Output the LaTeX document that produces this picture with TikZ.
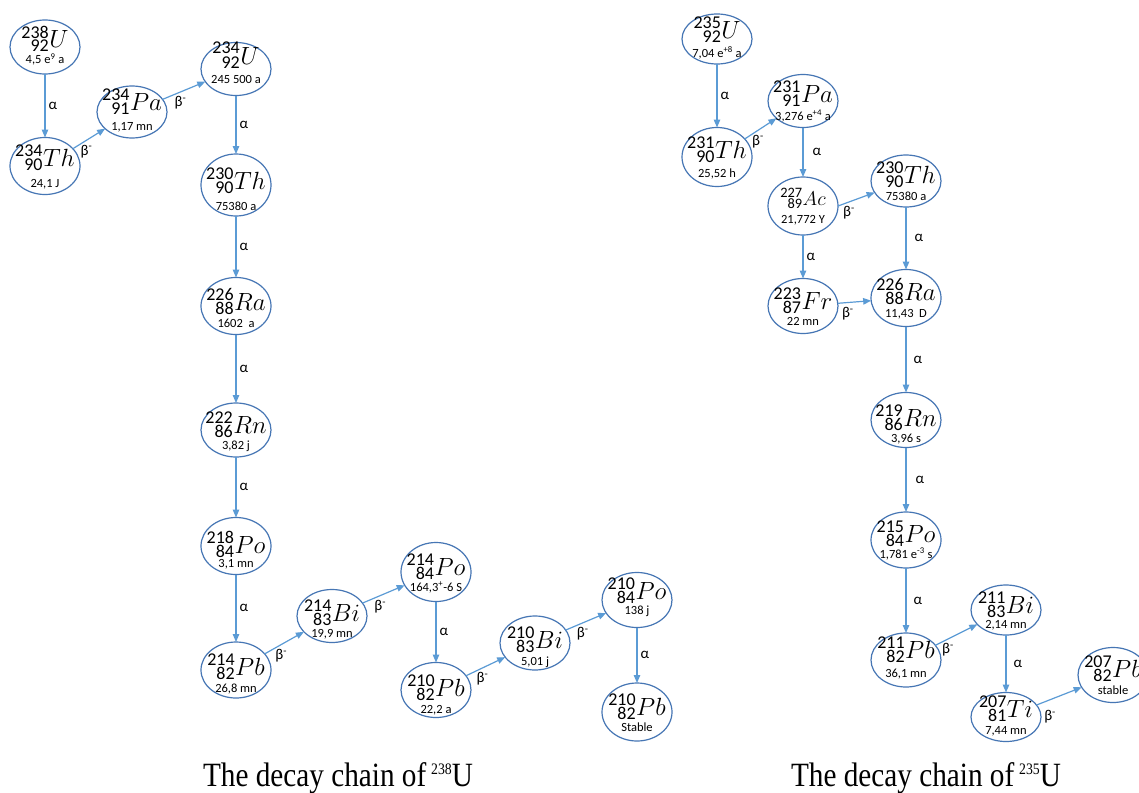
\documentclass[tikz,border=0pt]{standalone}
\usepackage{fontspec}
\usepackage{graphicx}
\usetikzlibrary{shapes.geometric,arrows.meta}
\newfontfamily\calib{Carlito}
\newfontfamily\capfont{Liberation Serif}
\definecolor{ellc}{RGB}{70,118,180}
\definecolor{arrc}{RGB}{91,155,213}

% nuclide symbol: mass number over charge number, right aligned, before the element
\newcommand\nucsym[3]{%
  \begingroup\calib\fontsize{18}{18}\selectfont
  \setbox0\hbox{#1}\setbox2\hbox{#2}%
  \dimen0=\ifdim\wd0>\wd2 \wd0\else\wd2\fi
  \hbox to \dimen0{\hfil\raise10pt\box0}\kern-\dimen0
  \hbox to \dimen0{\hfil\lower4pt\box2}%
  \endgroup
  \kern0.5pt{\fontsize{25}{25}\selectfont$#3$}}

% [scale]{mass}{charge}{symbol}{half-life}{symbol baseline shift}{half-life baseline shift}
\newcommand\isotope[7][1]{%
  \makebox[0pt]{\raisebox{#6pt}[0pt][0pt]{\scalebox{#1}{\nucsym{#2}{#3}{#4}}}}%
  \makebox[0pt]{\raisebox{#7pt}[0pt][0pt]{\calib\fontsize{12.5}{12.5}\selectfont #5}}}

\newcommand\chaincaption[1]{\scalebox{0.86}[1]{\fontsize{34}{34}\selectfont The decay chain of\,\raisebox{11.5pt}{\fontsize{16}{16}\selectfont #1}U}}

\tikzset{
  nuc/.style={ellipse, draw=ellc, line width=1.2pt, minimum width=70pt, inner sep=0pt, outer sep=0pt},
  arr/.style={draw=arrc, line width=1.2pt, -{Triangle[length=8pt,width=6.5pt]}},
  alab/.style={font=\calib\fontsize{15}{15}\selectfont, right, inner sep=3pt},
  blab/.style={font=\calib\fontsize{15}{15}\selectfont, below, pos=0.42, inner sep=4pt},
  caption/.style={font=\capfont, anchor=base, inner sep=0pt}
}

\begin{document}
\begin{tikzpicture}[x=1pt,y=-1pt]
\useasboundingbox (0,0) rectangle (1139,792);
\fill[white] (0,0) rectangle (1139,792);
\clip (0,0) rectangle (1139,792);

% ---- uranium 238 series ----
\node[nuc, minimum height=54pt] (u238)  at (45,47)   {\isotope{238}{92}{U}{4,5 e\textsuperscript{9} a}{-1}{-17}};
\node[nuc, minimum height=57pt] (th234) at (45,166)  {\isotope{234}{90}{Th}{24,1 J}{0}{-21}};
\node[nuc, minimum height=52pt] (pa234) at (132,112) {\isotope{234}{91}{Pa}{1,17 mn}{2}{-18}};
\node[nuc, minimum height=53pt] (u234)  at (236,69)  {\isotope{234}{92}{U}{245 500 a}{5}{-14}};
\node[nuc, minimum height=62pt] (th230) at (236,185) {\isotope{230}{90}{Th}{75380 a}{-4}{-25}};
\node[nuc, minimum height=57pt] (ra226) at (236,306) {\isotope{226}{88}{Ra}{1602\ \ a}{-4}{-21}};
\node[nuc, minimum height=54pt] (rn222) at (236,430) {\isotope{222}{86}{Rn}{3,82 j}{-3}{-19}};
\node[nuc, minimum height=57pt] (po218) at (236,546) {\isotope{218}{84}{Po}{3,1 mn}{-7}{-21}};
\node[nuc, minimum height=56pt] (pb214) at (236,670) {\isotope{214}{82}{Pb}{26,8 mn}{-5}{-22}};
\node[nuc, minimum height=53pt] (bi214) at (332,616) {\isotope{214}{83}{Bi}{19,9 mn}{-5}{-21}};
\node[nuc, minimum height=59pt] (po214) at (436,572) {\isotope{214}{84}{Po}{164,3\textsuperscript{+}-6 S}{-3}{-19}};
\node[nuc, minimum height=55pt] (pb210) at (436,690) {\isotope{210}{82}{Pb}{22,2 a}{-6}{-23}};
\node[nuc, minimum height=54pt] (bi210) at (535,643) {\isotope{210}{83}{Bi}{5,01 j}{-5}{-22}};
\node[nuc, minimum height=55pt] (po210) at (637,600) {\isotope{210}{84}{Po}{138 j}{1}{-14}};
\node[nuc, minimum height=58pt] (pb210s) at (637,712) {\isotope{210}{82}{Pb}{Stable}{-3}{-19}};

\draw[arr] (u238)  -- node[alab] {α} (th234);
\draw[arr] (th234) -- node[blab] {β\textsuperscript{-}} (pa234);
\draw[arr] (pa234) -- node[blab] {β\textsuperscript{-}} (u234);
\draw[arr] (u234)  -- node[alab] {α} (th230);
\draw[arr] (th230) -- node[alab] {α} (ra226);
\draw[arr] (ra226) -- node[alab] {α} (rn222);
\draw[arr] (rn222) -- node[alab] {α} (po218);
\draw[arr] (po218) -- node[alab] {α} (pb214);
\draw[arr] (pb214) -- node[blab] {β\textsuperscript{-}} (bi214);
\draw[arr] (bi214) -- node[blab] {β\textsuperscript{-}} (po214);
\draw[arr] (po214) -- node[alab] {α} (pb210);
\draw[arr] (pb210) -- node[blab] {β\textsuperscript{-}} (bi210);
\draw[arr] (bi210) -- node[blab] {β\textsuperscript{-}} (po210);
\draw[arr] (po210) -- node[alab] {α} (pb210s);

% ---- uranium 235 series ----
\node[nuc, minimum height=50pt] (u235)   at (717,39)   {\isotope{235}{92}{U}{7,04 e\textsuperscript{+8} a}{0}{-18}};
\node[nuc, minimum height=59pt] (th231)  at (717,157)  {\isotope{231}{90}{Th}{25,52 h}{-1}{-20}};
\node[nuc, minimum height=53pt] (pa231)  at (803,101)  {\isotope{231}{91}{Pa}{3,276 e\textsuperscript{+4} a}{-1}{-19}};
\node[nuc, minimum height=58pt] (ac227)  at (803,206)  {\isotope[0.8]{227}{89}{Ac}{21,772 Y}{1}{-17}};
\node[nuc, minimum height=52pt] (th230r) at (906,181)  {\isotope{230}{90}{Th}{75380 a}{-2}{-19}};
\node[nuc, minimum height=55pt] (fr223)  at (803,306)  {\isotope{223}{87}{Fr}{22 mn}{-3}{-19}};
\node[nuc, minimum height=57pt] (ra226r) at (906,298)  {\isotope{226}{88}{Ra}{11,43\ \ D}{-2}{-19}};
\node[nuc, minimum height=55pt] (rn219)  at (906,420)  {\isotope{219}{86}{Rn}{3,96 s}{-6}{-22}};
\node[nuc, minimum height=56pt] (po215)  at (906,540)  {\isotope{215}{84}{Po}{1,781 e\textsuperscript{-3} s}{-2}{-18}};
\node[nuc, minimum height=54pt] (pb211)  at (906,660)  {\isotope{211}{82}{Pb}{36,1 mn}{2}{-17}};
\node[nuc, minimum height=50pt] (bi211)  at (1006,610) {\isotope{211}{83}{Bi}{2,14 mn}{-3}{-18}};
\node[nuc, minimum height=49pt] (ti207)  at (1006,717) {\isotope{207}{81}{Ti}{7,44 mn}{0}{-17}};
\node[nuc, minimum height=55pt] (pb207)  at (1113,675) {\isotope{207}{82}{Pb}{stable}{-2}{-19}};

\draw[arr] (u235)   -- node[alab] {α} (th231);
\draw[arr] (th231)  -- node[blab] {β\textsuperscript{-}} (pa231);
\draw[arr] (pa231)  -- node[alab, xshift=6pt] {α} (ac227);
\draw[arr] (ac227.east) -- node[blab, pos=0.3] {β\textsuperscript{-}} (th230r);
\draw[arr] (th230r) -- node[alab, xshift=5pt] {α} (ra226r);
\draw[arr] (ac227)  -- node[alab] {α} (fr223);
\draw[arr] (fr223)  -- node[blab, pos=0.3] {β\textsuperscript{-}} (ra226r);
\draw[arr] (ra226r) -- node[alab, xshift=4pt] {α} (rn219);
\draw[arr] (rn219)  -- node[alab, xshift=6pt] {α} (po215);
\draw[arr] (po215)  -- node[alab, xshift=4pt] {α} (pb211);
\draw[arr] (pb211)  -- node[blab, pos=0.3] {β\textsuperscript{-}} (bi211);
\draw[arr] (bi211)  -- node[alab, xshift=4pt] {α} (ti207);
\draw[arr] (ti207)  -- node[blab, pos=0.3, yshift=-6pt] {β\textsuperscript{-}} (pb207);

% ---- captions ----
\node[caption] (cap238) at (338,786) {\chaincaption{238}};
\node[caption] (cap235) at (926,786) {\chaincaption{235}};
\end{tikzpicture}
\end{document}
